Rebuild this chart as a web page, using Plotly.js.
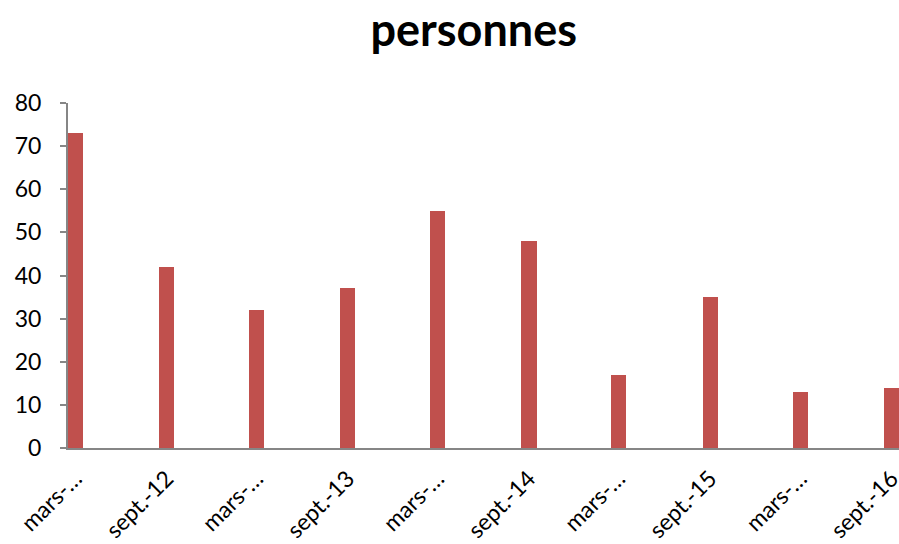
<!DOCTYPE html>
<html>
<head>
<meta charset="utf-8">
<script src="https://cdn.plot.ly/plotly-3.0.1.min.js"></script>
<style>html,body{margin:0;padding:0;background:#fff}#chart{width:899px;height:544px}</style>
</head>
<body>
<div id="chart"></div>
<script>
var categories = ['mars-…','sept.-12','mars-…','sept.-13','mars-…','sept.-14','mars-…','sept.-15','mars-…','sept.-16'];
var months = ['2012-03','2012-09','2013-03','2013-09','2014-03','2014-09','2015-03','2015-09','2016-03','2016-09'];
var personnes = [73, 42, 32, 37, 55, 48, 17, 35, 13, 14];

var MONTH_MS = 30.44 * 24 * 3600 * 1000;
var xStart = months.map(function(m){ return m + '-01'; });
var xMid = months.map(function(m){ return m + '-16'; });

Plotly.newPlot('chart', [{
  type: 'bar',
  x: xStart,
  y: personnes,
  width: MONTH_MS,
  offset: 0,
  marker: {color: '#C0504D'},
  hoverinfo: 'y'
}], {
  width: 899, height: 544,
  margin: {l: 68, r: 0, t: 103, b: 96},
  paper_bgcolor: '#fff', plot_bgcolor: '#fff',
  font: {family: 'Lato, Carlito, sans-serif', color: '#000', size: 20},
  title: {text: '<b>personnes</b>', font: {size: 45, family: 'Lato, sans-serif', color: '#000'}, x: 0.527, xanchor: 'center', y: 0.945, yanchor: 'middle'},
  showlegend: false,
  bargap: 0,
  xaxis: {
    type: 'date',
    range: ['2012-03-01', '2016-10-01'],
    tickmode: 'array',
    tickvals: xMid,
    ticktext: categories,
    tickangle: -45,
    ticks: '',
    showgrid: false,
    zeroline: false,
    showline: true,
    linecolor: '#868686',
    linewidth: 2,
    tickfont: {size: 23},
    ticklabeloverflow: 'allow',
    ticklabelstandoff: 6
  },
  yaxis: {
    range: [0, 80],
    dtick: 10,
    ticks: 'outside',
    ticklen: 6,
    tickcolor: '#868686',
    tickwidth: 2,
    showgrid: false,
    zeroline: false,
    showline: true,
    linecolor: '#868686',
    linewidth: 2,
    tickfont: {size: 23},
    ticklabelstandoff: 14
  }
}, {displayModeBar: false, staticPlot: true});
</script>
</body>
</html>
